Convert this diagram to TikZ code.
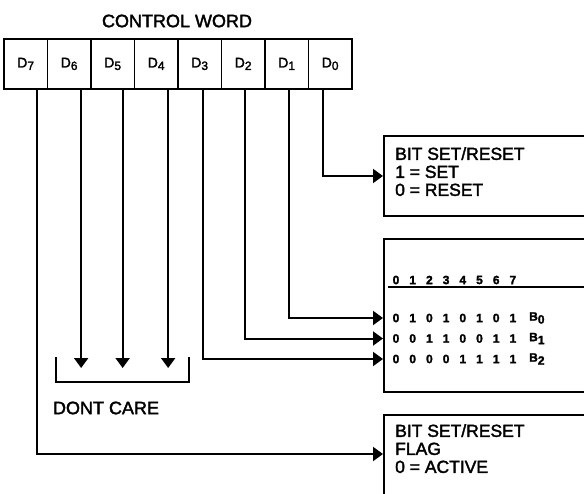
\documentclass[tikz,border=0pt]{standalone}
\usepackage{fontspec}
\setmainfont{Liberation Sans}[FakeBold=2]
\usetikzlibrary{positioning, arrows.meta, calc}

\tikzset{
  cell/.style={draw, line width=1.8pt, anchor=north west, minimum width=43.5pt,
    minimum height=50pt, inner sep=0pt, font=\fontsize{14}{14}\selectfont},
  panel/.style={draw, line width=2pt, anchor=north west, inner sep=0pt},
  wire/.style={line width=2pt, -{Triangle[length=10pt,width=14pt]}},
  boxtext/.style={anchor=north west, align=left, inner sep=0pt,
    font=\fontsize{17.5}{18}\selectfont},
  bit/.style={inner sep=0pt, font=\fontsize{12}{12}\selectfont\bfseries},
}

\begin{document}
\begin{tikzpicture}[x=1pt, y=-1pt]

        \useasboundingbox (0,0) rectangle (584,493);
        \clip (0,0) rectangle (584,493);

        % Control word
        \node[font=\fontsize{18}{18}\selectfont] (title) at (177,21) {CONTROL WORD};
        \foreach \i [count=\k from 0] in {7,...,0}
            \node[cell] (d\i) at (3+43.5*\k,38) {D\raisebox{-2.5pt}{\fontsize{12}{12}\selectfont\i}};

        % Output boxes
        \node[panel, minimum width=260pt, minimum height=80pt] (setbox) at (383,135) {};
        \node[panel, minimum width=260pt, minimum height=153pt] (selbox) at (383,238) {};
        \node[panel, minimum width=260pt, minimum height=120pt] (flagbox) at (383,414) {};

        \node[boxtext] (settext) at (395,147) {BIT SET/RESET\\1 = SET\\0 = RESET};
        \node[boxtext] (flagtext) at (395,424) {BIT SET/RESET\\FLAG\\0 = ACTIVE};

        % Bit select table
        \foreach \c in {0,...,7}
            \node[bit] (head\c) at (396+16.7*\c,280) {\c};
        \draw[line width=1.6pt] ($(selbox.north west)+(5,49)$) -- ++(200,0);
        \foreach \bits [count=\r from 0] in {{0,1,0,1,0,1,0,1},{0,0,1,1,0,0,1,1},{0,0,0,0,1,1,1,1}} {
            \foreach \b [count=\c from 0] in \bits
                \node[bit] (bit\r-\c) at (396+16.7*\c,318+20.5*\r) {\b};
            \node[bit, anchor=west] (b\r) at (529,318+20.5*\r)
                {B\raisebox{-3pt}{\fontsize{12}{12}\selectfont\r}};
        }

        % Connectors
        \draw[wire] ([xshift=-7pt]d0.south) |- (setbox.west);
        \draw[wire] ([xshift=2pt]d1.south) |- (selbox.west |- bit0-0);
        \draw[wire] ([xshift=2pt]d2.south) |- (selbox.west |- bit1-0);
        \draw[wire] ([xshift=3pt]d3.south) |- (selbox.west |- bit2-0);
        \draw[wire] ([xshift=11pt]d7.south) |- ($(flagbox.north west)+(0,40)$);

        % Dont care
        \coordinate (care) at (0,368);
        \draw[wire] ([xshift=12pt]d6.south) -- ([xshift=12pt]d6.south |- care);
        \draw[wire] ([xshift=10pt]d5.south) -- ([xshift=10pt]d5.south |- care);
        \draw[wire] ([xshift=12pt]d4.south) -- ([xshift=12pt]d4.south |- care);
        \draw[line width=2pt] (56,357) |- (189,382) -- (189,357);
        \node[font=\fontsize{18}{18}\selectfont] (dontcare) at (106,408) {DONT CARE};

    \end{tikzpicture}
\end{document}
